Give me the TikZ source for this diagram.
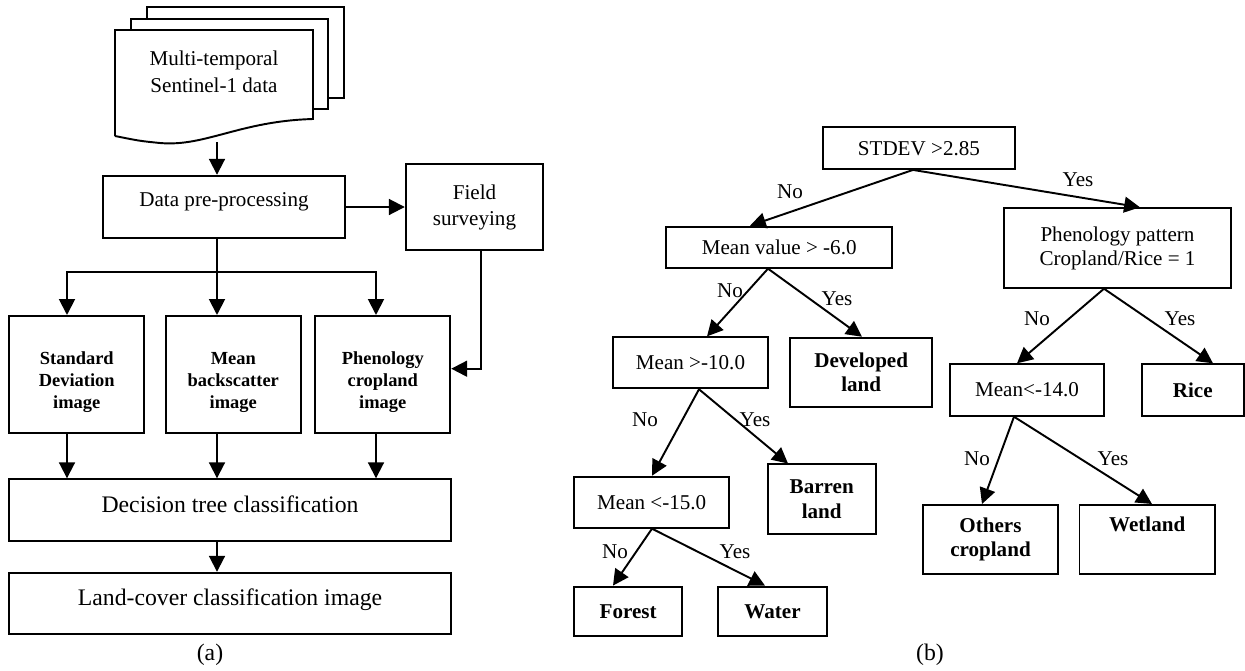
\documentclass[tikz,border=0pt]{standalone}
\usepackage{fontspec}
\setmainfont{Liberation Serif}
\usetikzlibrary{arrows.meta}
\tikzset{
  box/.style={draw,line width=1.1pt,inner sep=0pt,align=center},
  leaf/.style={box,font=\fontsize{12}{13.8}\selectfont\bfseries},
  imgbox/.style={box,font=\fontsize{10.5}{12.5}\selectfont\bfseries,minimum width=2.7cm,minimum height=2.35cm},
  link/.style={line width=1.1pt,-{Triangle[length=9pt,width=9pt]}},
  plain/.style={line width=1.1pt},
  ans/.style={inner sep=0pt},
  caption/.style={font=\fontsize{13.5}{16}\selectfont}
}
\begin{document}
\begin{tikzpicture}[x=0.02cm,y=-0.02cm,font=\fontsize{12}{14}\selectfont]
  \useasboundingbox (0,0) rectangle (1245,670);
  \draw[plain] (147,18.7) -- (147,6.7) -- (344,6.7) -- (344,98) -- (328,98);
  \draw[plain] (131,30) -- (131,18.7) -- (328,18.7) -- (328,109) -- (313,109);
  \draw[plain] (115,136) -- (115,30) -- (313,30) -- (313,119)
    .. controls (240,121) and (205,147) .. (160,143)
    .. controls (140,141) .. (115,136);
  \node[align=center,font=\fontsize{12}{15.4}\selectfont] (sentinel) at (214,72) {Multi-temporal\\Sentinel-1 data};
  \coordinate (docend) at (217,142);
  \node[box,minimum width=4.84cm,minimum height=1.25cm,text depth=0.3cm] (prep) at (224,207) {Data pre-processing};
  \node[box,minimum width=2.75cm,minimum height=1.72cm,font=\fontsize{12}{14.8}\selectfont] (field) at (474.5,207) {Field\\surveying};
  \node[imgbox] (sd) at (76.8,374.7) {\\[0.1cm]Standard\\Deviation\\image};
  \node[imgbox] (mb) at (233.3,374.7) {\\[0.1cm]Mean\\backscatter\\image};
  \node[imgbox] (pc) at (382.8,374.7) {\\[0.1cm]Phenology\\cropland\\image};
  \node[box,minimum width=8.83cm,minimum height=1.23cm,text depth=0.22cm,font=\fontsize{13.5}{16}\selectfont] (dt) at (230,510) {Decision tree classification};
  \node[box,minimum width=8.83cm,minimum height=1.23cm,text depth=0.24cm,font=\fontsize{13.5}{16}\selectfont] (lc) at (230,603.5) {Land-cover classification image};
  \node[caption] (capa) at (210,655) {(a)};
  \coordinate (fork) at (217,272);
  \draw[link] (docend) -- (docend |- prep.north);
  \draw[link] (prep.east) -- (field.west);
  \draw[plain] (fork |- prep.south) -- (fork);
  \draw[link] (fork) -| (67,0 |- sd.north);
  \draw[link] (fork) -- (fork |- mb.north);
  \draw[link] (fork) -| (376,0 |- pc.north);
  \draw[link] (481,0 |- field.south) |- ([yshift=0.12cm]pc.east);
  \draw[link] (67,0 |- sd.south) -- (67,0 |- dt.north);
  \draw[link] (217,0 |- mb.south) -- (217,0 |- dt.north);
  \draw[link] (376,0 |- pc.south) -- (376,0 |- dt.north);
  \draw[link] (217,0 |- dt.south) -- (217,0 |- lc.north);

  \node[box,minimum width=3.85cm,minimum height=0.83cm] (stdev) at (918.9,148.2) {STDEV >2.85};
  \node[box,minimum width=4.53cm,minimum height=0.82cm] (meanv) at (779.2,247.2) {Mean value > -6.0};
  \node[box,minimum width=4.53cm,minimum height=1.59cm,font=\fontsize{12}{13.7}\selectfont] (phen) at (1117.5,248) {Phenology pattern\\Cropland/Rice = 1};
  \node[box,minimum width=3.11cm,minimum height=1.02cm] (m10) at (690.5,362.8) {Mean >-10.0};
  \node[leaf,minimum width=2.85cm,minimum height=1.38cm] (devl) at (861.2,372.2) {Developed\\land};
  \node[box,minimum width=3.11cm,minimum height=1.02cm] (m15) at (651.7,502.2) {Mean <-15.0};
  \node[leaf,minimum width=2.16cm,minimum height=1.39cm] (barren) at (821.7,499.2) {Barren\\land};
  \node[leaf,minimum width=2.17cm,minimum height=0.99cm] (forest) at (628.2,611.3) {Forest};
  \node[leaf,minimum width=2.17cm,minimum height=0.99cm] (water) at (772.5,611.3) {Water};
  \node[box,minimum width=3.08cm,minimum height=1.03cm] (m14) at (1027,390) {Mean<-14.0};
  \node[leaf,minimum width=2.05cm,minimum height=1.03cm] (rice) at (1192.8,390) {Rice};
  \node[leaf,minimum width=2.71cm,minimum height=1.39cm] (others) at (990.5,539.7) {Others\\cropland};
  \node[leaf,minimum width=2.71cm,minimum height=1.39cm] (wet) at (1147.2,539.7) {Wetland\\\strut};
  \node[caption] (capb) at (930,655) {(b)};

  \draw[link] (913,0 |- stdev.south) -- (750,0 |- meanv.north);
  \draw[link] (913,0 |- stdev.south) -- (1140,0 |- phen.north);
  \draw[link] (768,0 |- meanv.south) -- (707,0 |- m10.north);
  \draw[link] (768,0 |- meanv.south) -- (862,0 |- devl.north);
  \draw[link] (699,0 |- m10.south) -- (652,0 |- m15.north);
  \draw[link] (699,0 |- m10.south) -- (788,0 |- barren.north);
  \draw[link] (652,0 |- m15.south) -- (613,0 |- forest.north);
  \draw[link] (652,0 |- m15.south) -- (765,0 |- water.north);
  \draw[link] (1104,0 |- phen.south) -- (1017,0 |- m14.north);
  \draw[link] (1104,0 |- phen.south) -- (1213,0 |- rice.north);
  \draw[link] (1014,0 |- m14.south) -- (982,0 |- others.north);
  \draw[link] (1014,0 |- m14.south) -- (1152,0 |- wet.north);

  \node[ans] (no1) at (790,192) {No};
  \node[ans] (yes1) at (1078,180) {Yes};
  \node[ans] (no2) at (730,291) {No};
  \node[ans] (yes2) at (837,299) {Yes};
  \node[ans] (no3) at (645,420) {No};
  \node[ans] (yes3) at (755,420) {Yes};
  \node[ans] (no4) at (615,552) {No};
  \node[ans] (yes4) at (735,552) {Yes};
  \node[ans] (no5) at (1037,319) {No};
  \node[ans] (yes5) at (1180,319) {Yes};
  \node[ans] (no6) at (977,459) {No};
  \node[ans] (yes6) at (1113,459) {Yes};
\end{tikzpicture}
\end{document}
